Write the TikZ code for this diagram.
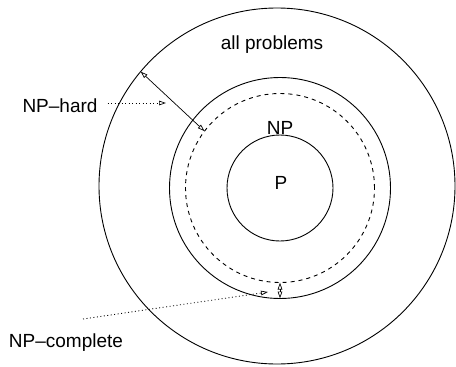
\documentclass[tikz,border=0pt]{standalone}
\usepackage{fontspec}
\setmainfont{Liberation Sans}
\usetikzlibrary{arrows.meta}
\begin{document}
\begin{tikzpicture}[x=1pt,y=-1pt,
  ring/.style={draw, circle, inner sep=0pt, outer sep=0pt, line width=0.9pt},
  lbl/.style={font=\fontsize{19}{22}\selectfont, inner sep=0pt},
  tip/.tip={Triangle[open,length=7pt,width=4.5pt,line width=0.7pt]},
  dbl/.style={line width=0.7pt, tip-tip},
  ptr/.style={line width=0.8pt, dash pattern=on 1pt off 2.5pt, -tip}]
\useasboundingbox (0,0) rectangle (456,367);
\node[ring, minimum size=356pt] (all) at (277,186) {};
\node[ring, minimum size=221pt] (np) at (280,188) {};
\node[ring, minimum size=189pt, dash pattern=on 4pt off 4pt] (npc) at (280,188) {};
\node[ring, minimum size=106pt] (p) at (280,188) {};
\node[lbl] (allt) at (272,45) {all problems};
\node[lbl] (npt) at (280,128) {NP};
\node[lbl] (pt) at (281,183) {P};
\node[lbl] (hard) at (60,106) {NP--hard};
\node[lbl] (comp) at (66,343) {NP--complete};
\draw[dbl] (all.140) -- (npc.143.6);
\draw[dbl] (npc.270) -- (np.270);
\coordinate (hardtip) at (166,103);
\draw[ptr] ([xshift=10pt,yshift=3pt]hard.east) -- (hardtip);
\coordinate (cstart) at (83,319);
\coordinate (ctip) at (268,292);
\draw[ptr] (cstart) -- (ctip);
\end{tikzpicture}
\end{document}
